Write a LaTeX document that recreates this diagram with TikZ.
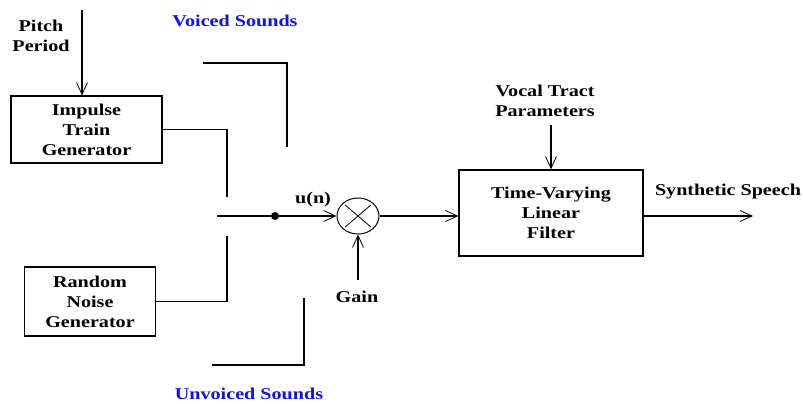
\documentclass[tikz,border=0pt]{standalone}
\usepackage{fontspec}
\setmainfont{Liberation Serif}[FakeStretch=1.22]
\usepackage{tikz}
\usetikzlibrary{arrows.meta, shapes.geometric}
\definecolor{LabelBlue}{HTML}{1010F0}

\tikzset{
  blockbox/.style={draw, line width=1.2pt, align=center, inner sep=2pt},
  sigline/.style={line width=1.1pt},
  sigarrow/.style={line width=1.1pt, -{Straight Barb[length=12pt,width=11pt,line width=0.8pt]}},
  lbl/.style={align=center, inner sep=1pt}
}

\begin{document}
\begin{tikzpicture}[x=1pt, y=-1pt, font=\bfseries\fontsize{16.5}{20}\selectfont]
      \useasboundingbox (0,0) rectangle (803,404);
      % Blocks
      \node[blockbox, minimum width=151pt, minimum height=67pt] (impulse) at (86.5,129.5) {Impulse\\Train\\Generator};
      \node[blockbox, minimum width=131pt, minimum height=69pt] (noise) at (90,301.5) {Random\\Noise\\Generator};
      \node[blockbox, minimum width=184pt, minimum height=86pt] (filter) at (551,213) {Time-Varying\\Linear\\Filter};
      \node[draw, ellipse, line width=1pt, minimum width=42pt, minimum height=36pt, inner sep=0pt] (mult) at (358,216) {};
      \draw[line width=0.8pt, shorten <=3pt, shorten >=3pt] (mult.north west) -- (mult.south east);
      \draw[line width=0.8pt, shorten <=3pt, shorten >=3pt] (mult.north east) -- (mult.south west);
      \node[circle, fill, minimum size=8pt, inner sep=0pt] (dot) at (275,216) {};
      % Labels
      \node[lbl] (pitch) at (41,36) {Pitch\\Period};
      \node[lbl, text=LabelBlue] (voiced) at (235,21) {Voiced Sounds};
      \node[lbl, text=LabelBlue] (unvoiced) at (249,394) {Unvoiced Sounds};
      \node[lbl] (un) at (313,200) {u(n)};
      \node[lbl] (gain) at (357,297) {Gain};
      \node[lbl] (vtp) at (545,101) {Vocal Tract\\Parameters};
      \node[lbl] (speech) at (728,192) {Synthetic Speech};
      % Free ends
      \coordinate (pitchtop) at (82,10);
      \coordinate (vtop) at (227,197);
      \coordinate (nbot) at (227,236);
      \coordinate (jleft) at (217,216);
      \coordinate (vs1) at (203,63);
      \coordinate (vs2) at (287,147);
      \coordinate (us1) at (212,365);
      \coordinate (us2) at (304,298);
      \coordinate (gainbot) at (358,280);
      \coordinate (vtpbot) at (551,125);
      \coordinate (out) at (753,216);
      % Switch contacts
      \draw[sigline] (impulse.east) -| (vtop);
      \draw[sigline] (noise.east) -| (nbot);
      \draw[sigline] (vs1) -| (vs2);
      \draw[sigline] (us1) -| (us2);
      \draw[sigline] (jleft) -- (dot);
      % Signal path
      \draw[sigarrow] (pitchtop) -- (pitchtop |- impulse.north);
      \draw[sigarrow] (dot) -- (mult.west);
      \draw[sigarrow] (gainbot) -- (mult.south);
      \draw[sigarrow] (mult.east) -- (filter.west |- mult.east);
      \draw[sigarrow] (vtpbot) -- (filter.north);
      \draw[sigarrow] (filter.east |- out) -- (out);
    \end{tikzpicture}
\end{document}
